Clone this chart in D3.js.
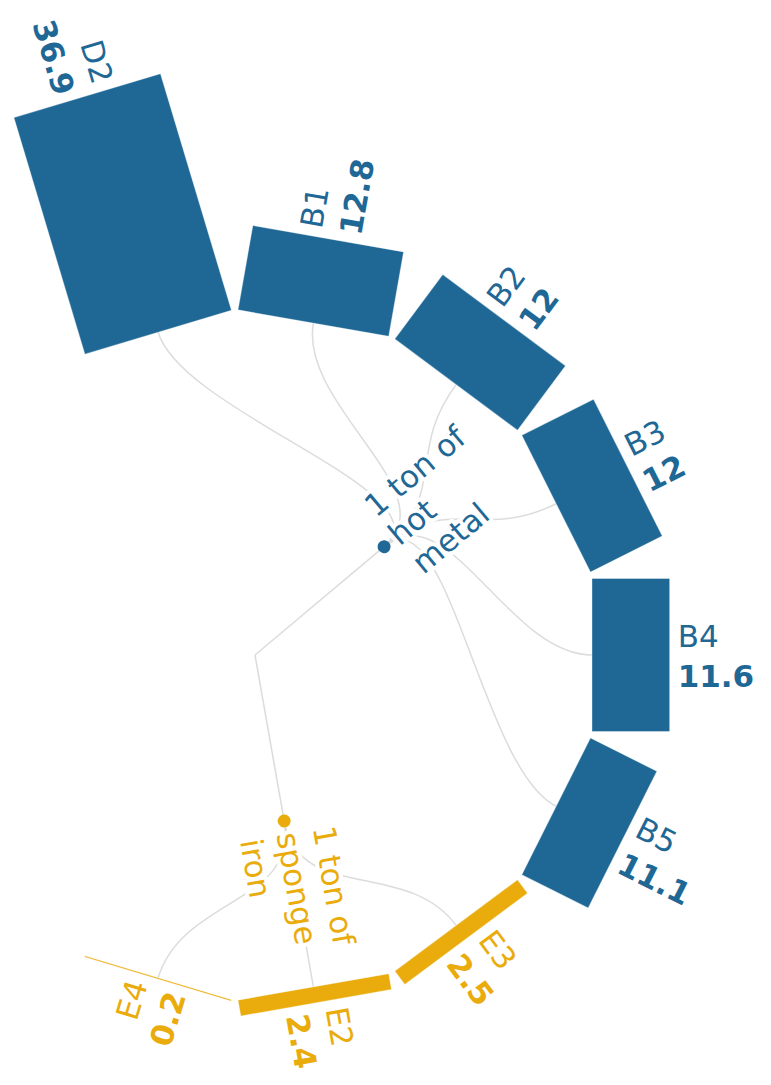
<!DOCTYPE html>
<html>
<head>
<meta charset="utf-8">
<script src="https://cdn.jsdelivr.net/npm/d3@7"></script>
<style>
  body { margin: 0; background: #fff; }
  text { font-family: "DejaVu Sans", Verdana, sans-serif; font-size: 31px; }
  .link { fill: none; stroke: #dcdcdc; stroke-width: 1.5; }
  .bar { stroke: #fff; stroke-width: 1; stroke-opacity: 0.35; }
  .node-label { stroke: #fff; stroke-width: 8; stroke-linejoin: round; paint-order: stroke; }
</style>
</head>
<body>
<svg id="chart" width="771" height="1085"></svg>
<script>
// leaves, in drawing order around the arc
const names  = ["D2", "B1", "B2", "B3", "B4", "B5", "E3", "E2", "E4"];
const values = [36.9, 12.8, 12, 12, 11.6, 11.1, 2.5, 2.4, 0.2];
const groups = ["hot", "hot", "hot", "hot", "hot", "hot", "sponge", "sponge", "sponge"];

// middle nodes
const groupKeys   = ["hot", "sponge"];
const groupLabels = [["1 ton of", "hot", "metal"], ["1 ton of", "sponge", "iron"]];
const groupColors = ["#1f6896", "#e9ac0c"];

const cx = 255, cy = 655;   // root of the tree
const innerR = 337;         // bars start here
const barW = 153;
const pad = 8;

const svg = d3.select("#chart");
const g = svg.append("g").attr("transform", `translate(${cx},${cy})`);

// angle in degrees, 0 = pointing right, clockwise
const angle = d3.scalePoint().domain(names).range([-106.7, 106.7]);
const len = d3.scaleLinear().domain([0, d3.max(values)]).range([0, 247]);
const color = d3.scaleOrdinal().domain(groupKeys).range(groupColors);

const leaves = names.map((n, i) => ({
  name: n, value: values[i], group: groups[i], angle: angle(n), r: innerR
}));

const nodes = groupKeys.map((k, i) => ({
  key: k,
  lines: groupLabels[i],
  angle: d3.mean(leaves.filter(l => l.group === k), l => l.angle),
  r: innerR / 2
}));

const rad = a => a * Math.PI / 180;
const pos = d => [d.r * Math.cos(rad(d.angle)), d.r * Math.sin(rad(d.angle))];

// root -> middle nodes (straight)
const line = d3.line();
g.selectAll(".root-link").data(nodes)
  .enter().append("path")
    .attr("class", "link")
    .attr("d", d => line([[0, 0], pos(d)]));

// middle nodes -> leaves
const link = d3.linkRadial()
  .angle(d => rad(d.angle + 90))
  .radius(d => d.r);

g.selectAll(".leaf-link").data(leaves)
  .enter().append("path")
    .attr("class", "link")
    .attr("d", d => link({ source: nodes.find(n => n.key === d.group), target: d }));

// bars
g.selectAll(".bar").data(leaves)
  .enter().append("rect")
    .attr("class", "bar")
    .attr("transform", d => `rotate(${d.angle})`)
    .attr("x", innerR)
    .attr("y", -barW / 2)
    .attr("width", d => len(d.value))
    .attr("height", barW)
    .attr("fill", d => color(d.group));

// bar labels
const lab = g.selectAll(".bar-label").data(leaves)
  .enter().append("g")
    .attr("transform", d => {
      const flip = Math.abs(d.angle) > 90;
      return `rotate(${d.angle}) translate(${innerR + len(d.value) + pad},0)` + (flip ? " rotate(180)" : "");
    })
    .attr("fill", d => color(d.group))
    .attr("text-anchor", d => Math.abs(d.angle) > 90 ? "end" : "start");

lab.append("text").attr("y", -8).text(d => d.name);
lab.append("text").attr("y", 32).attr("font-weight", "bold").text(d => String(d.value));

// middle nodes
const ng = g.selectAll(".node").data(nodes)
  .enter().append("g")
    .attr("transform", d => `translate(${pos(d)}) rotate(${d.angle})`);

ng.append("circle").attr("r", 6.5).attr("fill", d => color(d.key));

ng.each(function(d) {
  d3.select(this).selectAll("text").data(d.lines)
    .enter().append("text")
      .attr("class", "node-label")
      .attr("x", 12)
      .attr("y", (t, i) => -27 + i * 37)
      .attr("fill", color(d.key))
      .text(t => t);
});
</script>
</body>
</html>
